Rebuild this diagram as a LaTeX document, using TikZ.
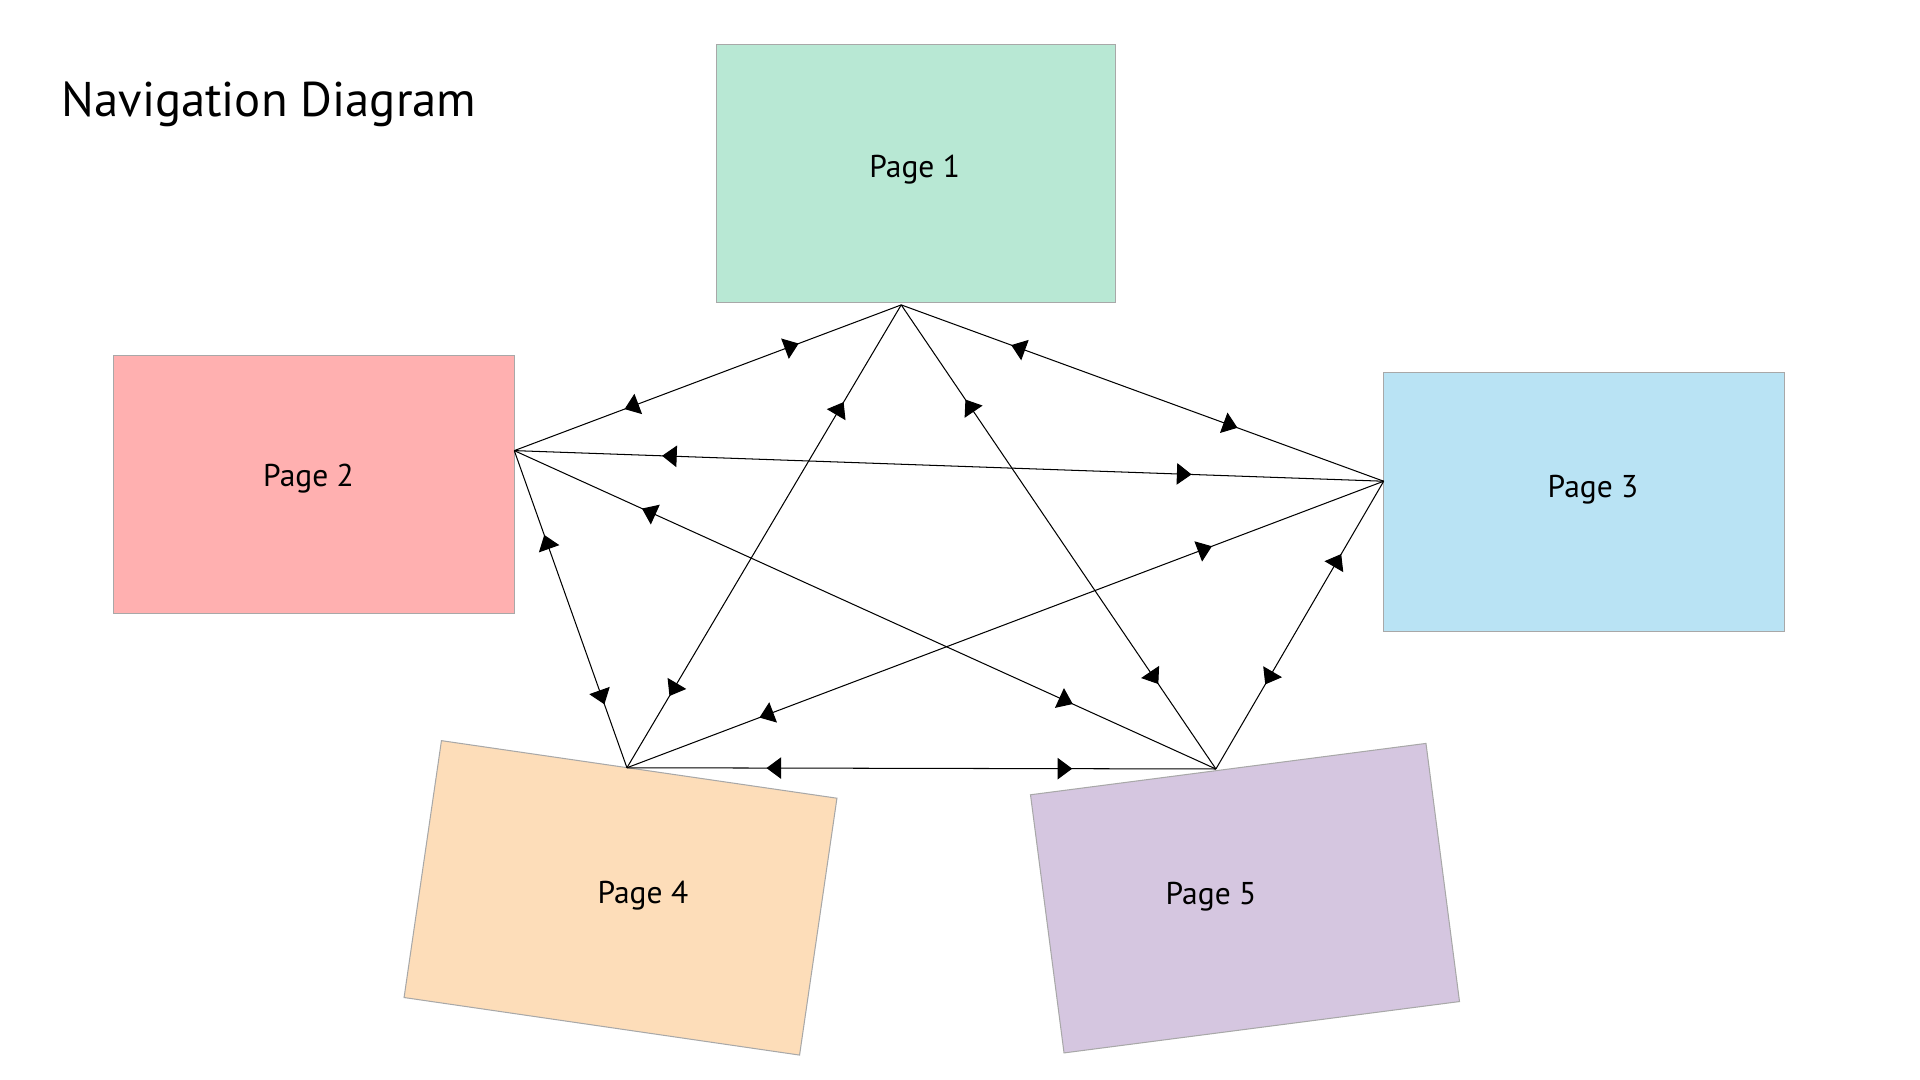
\documentclass[tikz,border=0pt]{standalone}
\usepackage{fontspec}
\setmainfont{PT Sans}
\usetikzlibrary{arrows.meta,decorations.markings}
\definecolor{pgA}{RGB}{184,232,212}
\definecolor{pgB}{RGB}{255,176,176}
\definecolor{pgC}{RGB}{185,227,244}
\definecolor{pgD}{RGB}{253,221,185}
\definecolor{pgE}{RGB}{213,198,224}
\definecolor{edgegray}{RGB}{168,168,168}
\tikzset{
  pagebox/.style={draw=edgegray,line width=0.6pt,inner sep=0pt,outer sep=0pt},
  pagetext/.style={anchor=base,font=\fontsize{18.3}{22}\selectfont,inner sep=0pt},
  headtip/.tip={Triangle[width=12.5pt,length=8.5pt]},
  link/.style 2 args={draw=black,line width=0.6pt,
    postaction={decorate,decoration={markings,
      mark=at position #1 with {\arrowreversed{headtip}},
      mark=at position #2 with {\arrow{headtip}}}}}
}
\begin{document}
\begin{tikzpicture}[x=0.025cm,y=-0.025cm]
\useasboundingbox[fill=white] (0,0) rectangle (1568,882);
% title
\node[anchor=base west,inner sep=0pt,font=\fontsize{28.3}{32}\selectfont] (title) at (50,95.5) {Navigation Diagram};
% page boxes
\node[pagebox,fill=pgA,minimum width=326*0.025cm,minimum height=211*0.025cm] (p1) at (748,141.5) {};
\node[pagebox,fill=pgB,minimum width=327*0.025cm,minimum height=211*0.025cm] (p2) at (256.5,395.5) {};
\node[pagebox,fill=pgC,minimum width=327*0.025cm,minimum height=212*0.025cm] (p3) at (1293.5,410) {};
\node[pagebox,fill=pgD,minimum width=326.4*0.025cm,minimum height=212*0.025cm,rotate=-8.28] (p4) at (506.75,733.25) {};
\node[pagebox,fill=pgE,minimum width=325.7*0.025cm,minimum height=212.6*0.025cm,rotate=7.4] (p5) at (1016.75,733.5) {};
% labels
\node[pagetext] (t1) at (747,144.6) {Page 1};
\node[pagetext] (t2) at (252,397) {Page 2};
\node[pagetext] (t3) at (1301,406) {Page 3};
\node[pagetext] (t4) at (525,738) {Page 4};
\node[pagetext] (t5) at (989,739) {Page 5};
% connection points
\coordinate (c1) at (736,249);
\coordinate (c2) at (420,368);
\coordinate (c3) at (1130,393);
\coordinate (c4) at (512,627);
\coordinate (c5) at (993,628);
% links
\draw[link={0.285}{0.735}] (c2) -- (c1);
\draw[link={0.21}{0.845}] (c1) -- (c4);
\draw[link={0.204}{0.817}] (c1) -- (c5);
\draw[link={0.228}{0.697}] (c1) -- (c3);
\draw[link={0.17}{0.779}] (c2) -- (c3);
\draw[link={0.266}{0.8}] (c2) -- (c4);
\draw[link={0.182}{0.796}] (c2) -- (c5);
\draw[link={0.227}{0.825}] (c3) -- (c4);
\draw[link={0.253}{0.706}] (c3) -- (c5);
\draw[link={0.237}{0.756}] (c4) -- (c5);
\end{tikzpicture}
\end{document}
